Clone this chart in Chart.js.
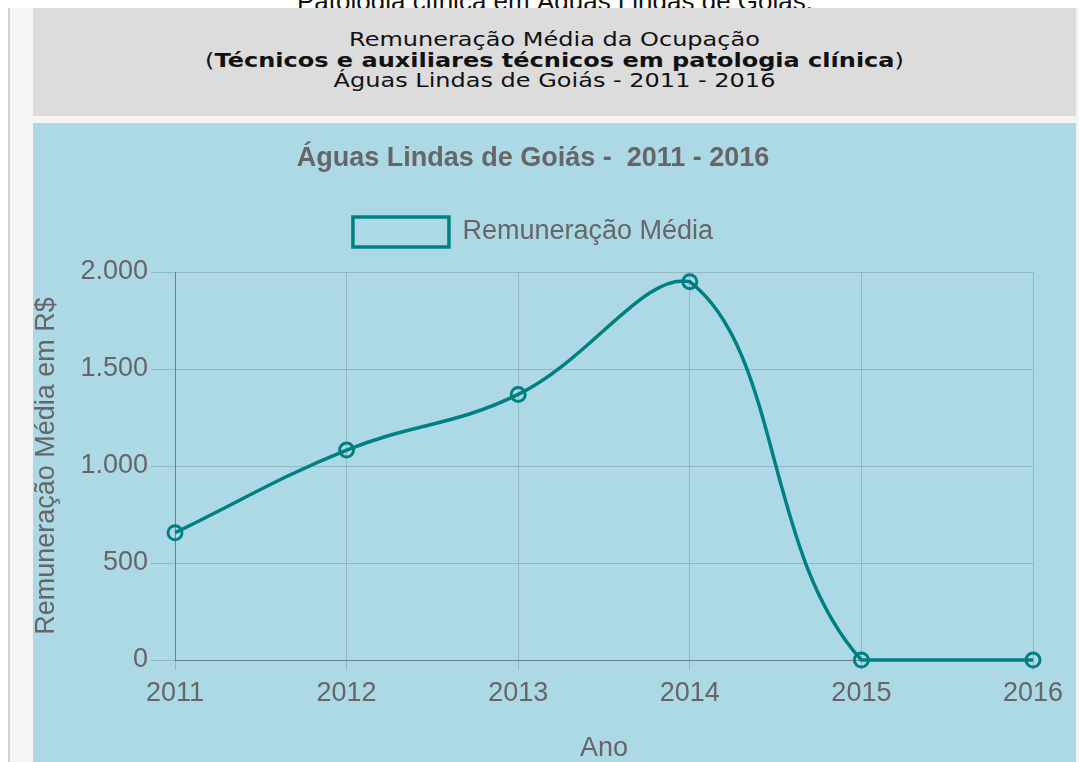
<!DOCTYPE html>
<html lang="pt-BR">
<head>
<meta charset="utf-8">
<title>Remuneração Média da Ocupação</title>
<script src="https://cdn.jsdelivr.net/npm/chart.js"></script>
<style>
    html, body {
        margin: 0;
        padding: 0;
        width: 1079px;
        height: 762px;
        overflow: hidden;
        background-color: white;
        font-family: "Liberation Sans", Arial, sans-serif;
    }
    #pageTitle {
        position: absolute;
        left: 0;
        top: -12px;
        width: 1110px;
        text-align: center;
        font-size: 26px;
        line-height: 26px;
        color: #111;
    }
    #frame {
        position: absolute;
        left: 8px;
        top: 8px;
        width: 1069px;
        height: 760px;
        border-left: 2px solid #cfcfcf;
        background-color: #f4f4f4;
    }
    #header {
        position: absolute;
        left: 33px;
        top: 8px;
        width: 1043px;
        height: 108px;
        background-color: #dcdcdc;
    }
    #header .lines {
        position: absolute;
        left: 0;
        top: 21px;
        width: 100%;
        text-align: center;
        font-family: "DejaVu Sans", Verdana, sans-serif;
        font-size: 20px;
        line-height: 20.5px;
        color: #111;
        transform: scaleX(1.2);
    }
    #chartBox {
        position: absolute;
        left: 33px;
        top: 123px;
        width: 1043px;
        height: 639px;
        background-color: #add8e6;
    }
</style>
</head>
<body>
<div id="pageTitle">Patologia clínica em Águas Lindas de Goiás.</div>
<div id="frame"></div>
<div id="header">
    <div class="lines">
        Remuneração Média da Ocupação<br>
        (<b>Técnicos e auxiliares técnicos em patologia clínica</b>)<br>
        Águas Lindas de Goiás - 2011 - 2016
    </div>
</div>
<div id="chartBox">
    <canvas id="chartRemuneracao"></canvas>
</div>

<script>
const anos = ["2011", "2012", "2013", "2014", "2015", "2016"]
const remuneracao = [656, 1082, 1369, 1950, 0, 0]
const yMin = 0
const yMax = 2000
const yStep = 500

const chartTitle = "Águas Lindas de Goiás -  2011 - 2016"
const seriesLabel = "Remuneração Média"
const yTitle = "Remuneração Média em R$"
const xTitle = "Ano"

const teal = "#008080"
const textGray = "#666"

// milhar com ponto, como no original
let formatBR = (v) => {
    return v.toString().replace(/\B(?=(\d{3})+(?!\d))/g, ".")
}

// espaço extra entre a legenda e o gráfico
let legendGap = {
    id: "legendGap",
    beforeInit: (chart) => {
        let fit = chart.legend.fit
        chart.legend.fit = function () {
            fit.bind(chart.legend)()
            this.height += 15
        }
    }
}

Chart.defaults.font.family = "'Liberation Sans', Arial, sans-serif"
Chart.defaults.color = textGray

window.addEventListener("load", () => {
    new Chart(document.getElementById("chartRemuneracao"), {
        type: "line",
        plugins: [legendGap],
        data: {
            labels: anos,
            datasets: [
                {
                    label: seriesLabel,
                    data: remuneracao,
                    borderColor: teal,
                    backgroundColor: "rgba(0,0,0,0)",
                    borderWidth: 3.5,
                    tension: 0.4,
                    fill: false,
                    clip: false,
                    pointRadius: 7,
                    pointBorderWidth: 3,
                    pointBorderColor: teal,
                    pointBackgroundColor: "rgba(0,0,0,0)",
                }
            ]
        },
        options: {
            responsive: true,
            maintainAspectRatio: false,
            animation: false,
            layout: {
                padding: { top: 0, right: 43, bottom: 0, left: 0 }
            },
            plugins: {
                title: {
                    display: true,
                    text: chartTitle,
                    color: textGray,
                    font: { size: 27, weight: "bold" },
                    padding: { top: 19, bottom: 28.6 }
                },
                legend: {
                    display: true,
                    labels: {
                        boxWidth: 96,
                        boxHeight: 30,
                        padding: 14,
                        color: textGray,
                        font: { size: 27 }
                    }
                },
                tooltip: { enabled: false }
            },
            scales: {
                x: {
                    afterFit: (scale) => { scale.height = 102 },
                    grid: {
                        color: "rgba(0,0,0,0.15)",
                        tickLength: 10,
                    },
                    border: { color: "rgba(0,0,0,0.3)" },
                    ticks: {
                        padding: 7,
                        color: textGray,
                        font: { size: 27 }
                    },
                    title: {
                        display: true,
                        text: xTitle,
                        color: textGray,
                        font: { size: 27, lineHeight: 1 },
                        padding: 0
                    }
                },
                y: {
                    min: yMin,
                    max: yMax,
                    afterFit: (scale) => { scale.width = 142 },
                    grid: {
                        color: "rgba(0,0,0,0.15)",
                        tickLength: 24,
                    },
                    border: { color: "rgba(0,0,0,0.3)" },
                    ticks: {
                        stepSize: yStep,
                        padding: 3,
                        color: textGray,
                        font: { size: 27 },
                        callback: (v) => formatBR(v)
                    },
                    title: {
                        display: true,
                        text: yTitle,
                        color: textGray,
                        font: { size: 27, lineHeight: 1 },
                        padding: 0
                    }
                }
            }
        }
    })
})
</script>
</body>
</html>
